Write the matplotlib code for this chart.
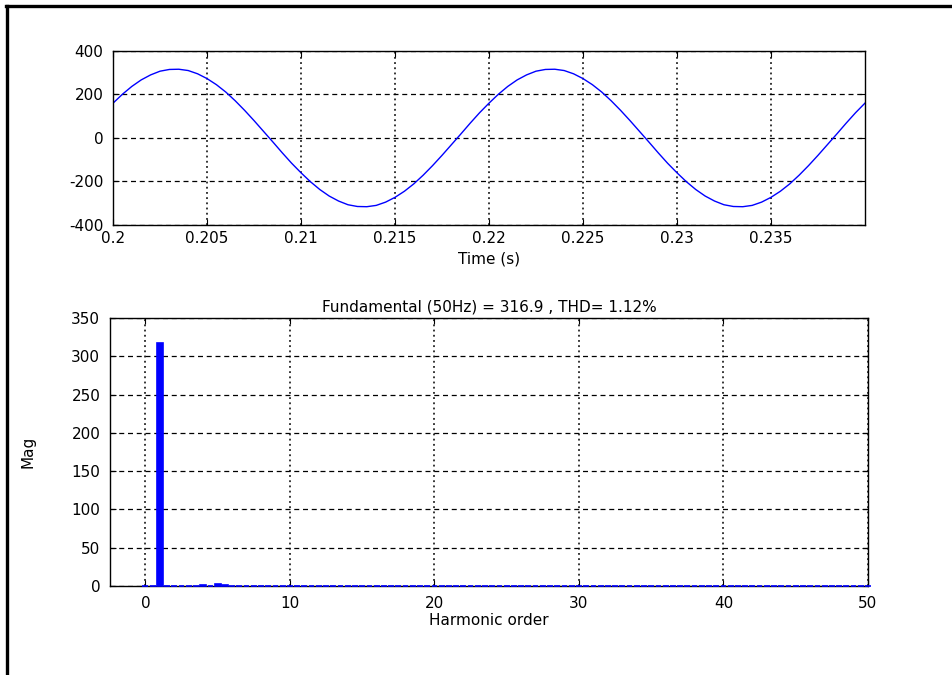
import matplotlib
matplotlib.use("Agg")
import matplotlib.pyplot as plt
from matplotlib.lines import Line2D
import numpy as np

plt.rcParams["axes.unicode_minus"] = False

# waveform samples (0.5 ms step, 0.2 .. 0.24 s)
t_start = 0.2
t_step = 0.0005
half_cycle = [160, 201, 237, 267, 290, 307, 315, 316, 310, 295,
              273, 245, 211, 171, 127, 80, 31, -18, -68, -116]
signal = (half_cycle + [-v for v in half_cycle]) * 2 + [160]
time = t_start + t_step * np.arange(len(signal))

# FFT spectrum bins (half-harmonic resolution), harmonic order 0 .. 50
orders = np.arange(0, 50.5, 0.5)
mag = [0.4] * len(orders)
mag[0] = 0.6
mag[2] = 316.9   # fundamental
mag[8] = 1.6
mag[10] = 2.2
mag[11] = 1.8

title_txt = "Fundamental (50Hz) = 316.9 , THD= 1.12%"
fs = 11

fig = plt.figure(figsize=(9.53, 6.75), dpi=100)

def style_axes(ax):
    ax.tick_params(direction="in", length=4, top=True, right=True,
                   labelsize=fs, colors="black")
    ax.tick_params(axis="y", pad=7)
    ax.xaxis.grid(True, color="black", linestyle=(0, (1.2, 2.2)), linewidth=1.1)
    ax.yaxis.grid(True, color="black", linestyle=(0, (4, 3)), linewidth=0.9)
    for s in ax.spines.values():
        s.set_linewidth(1.0)
    ax.set_axisbelow(True)

# upper: time signal
ax1 = fig.add_axes([0.1186, 0.6667, 0.789, 0.2578])
ax1.plot(time, signal, color="blue", linewidth=1.0)
ax1.set_xlim(0.2, 0.24)
ax1.set_ylim(-400, 400)
ax1.set_xticks([0.2, 0.205, 0.21, 0.215, 0.22, 0.225, 0.23, 0.235])
ax1.set_xticklabels(["0.2", "0.205", "0.21", "0.215", "0.22", "0.225", "0.23", "0.235"])
ax1.set_yticks([-400, -200, 0, 200, 400])
style_axes(ax1)
ax1.tick_params(axis="x", pad=4)
ax1.set_xlabel("Time (s)", fontsize=fs, labelpad=4)

# lower: harmonic spectrum
ax2 = fig.add_axes([0.1154, 0.1319, 0.7954, 0.397])
ax2.bar(orders, mag, width=0.4, color="blue", edgecolor="blue",
        linewidth=1.2, zorder=3, clip_on=False)
ax2.set_xlim(-2.45, 50)
ax2.set_ylim(0, 350)
ax2.set_xticks([0, 10, 20, 30, 40, 50])
ax2.set_yticks(range(0, 351, 50))
style_axes(ax2)
ax2.tick_params(axis="x", pad=7)
ax2.set_xlabel("Harmonic order", fontsize=fs, labelpad=2)
ax2.set_ylabel("Mag", fontsize=fs, labelpad=26)
ax2.set_title(title_txt, fontsize=fs, pad=5)

# figure frame (top and left edges only)
fig.add_artist(Line2D([6 / 953, 1], [1 - 5.5 / 675, 1 - 5.5 / 675],
                      transform=fig.transFigure, color="black", linewidth=2.4))
fig.add_artist(Line2D([7 / 953, 7 / 953], [0, 1 - 5.5 / 675],
                      transform=fig.transFigure, color="black", linewidth=2.4))

fig.savefig("out.png", dpi=100, facecolor="white")
